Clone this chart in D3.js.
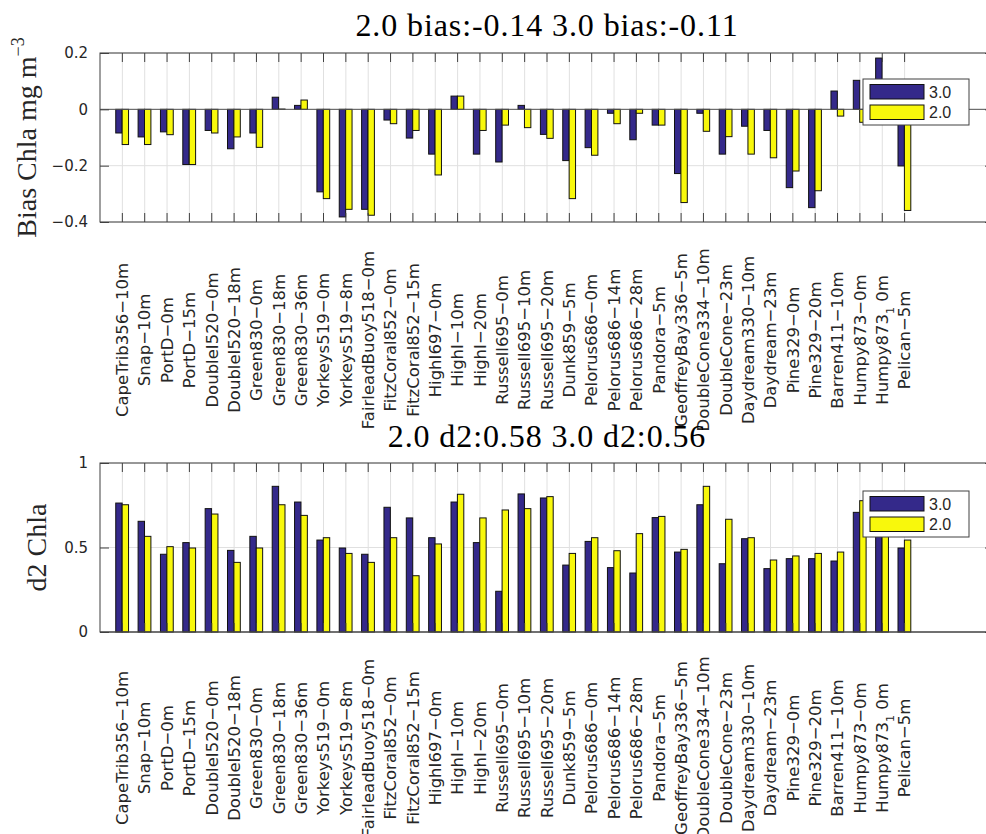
<!DOCTYPE html>
<html>
<head>
<meta charset="utf-8">
<script src="https://cdn.jsdelivr.net/npm/d3@7"></script>
<style>
  body { margin: 0; background: #fff; }
  svg { display: block; }
</style>
</head>
<body>
<svg id="chart"></svg>
<script>
// station names (x axis)
const categories = [
    "CapeTrib356-10m", "Snap-10m", "PortD-0m", "PortD-15m", "DoubleI520-0m", "DoubleI520-18m",
    "Green830-0m", "Green830-18m", "Green830-36m", "Yorkeys519-0m", "Yorkeys519-8m", "FairleadBuoy518-0m",
    "FitzCoral852-0m", "FitzCoral852-15m", "HighI697-0m", "HighI-10m", "HighI-20m", "Russell695-0m",
    "Russell695-10m", "Russell695-20m", "Dunk859-5m", "Pelorus686-0m", "Pelorus686-14m", "Pelorus686-28m",
    "Pandora-5m", "GeoffreyBay336-5m", "DoubleCone334-10m", "DoubleCone-23m", "Daydream330-10m", "Daydream-23m",
    "Pine329-0m", "Pine329-20m", "Barren411-10m", "Humpy873-0m", "Humpy873_1_0m", "Pelican-5m"
]

const series = ["3.0", "2.0"]

// bias Chla
const bias30 = [-0.084, -0.098, -0.080, -0.196, -0.075, -0.140, -0.084, 0.043, 0.014, -0.293, -0.382, -0.355,
    -0.038, -0.102, -0.159, 0.047, -0.159, -0.187, 0.014, -0.089, -0.182, -0.136, -0.014, -0.108,
    -0.056, -0.228, -0.014, -0.159, -0.060, -0.075, -0.278, -0.349, 0.065, 0.103, 0.182, -0.201]
const bias20 = [-0.125, -0.125, -0.090, -0.196, -0.084, -0.098, -0.135, 0.001, 0.033, -0.317, -0.355, -0.376,
    -0.051, -0.075, -0.233, 0.047, -0.075, -0.056, -0.065, -0.103, -0.317, -0.163, -0.051, -0.014,
    -0.056, -0.331, -0.078, -0.097, -0.159, -0.172, -0.219, -0.289, -0.024, -0.046, -0.040, -0.359]

// d2 Chla
const d2_30 = [0.763, 0.655, 0.460, 0.529, 0.730, 0.483, 0.566, 0.862, 0.769, 0.544, 0.497, 0.460,
    0.738, 0.675, 0.558, 0.769, 0.529, 0.241, 0.817, 0.793, 0.396, 0.536, 0.381, 0.349,
    0.677, 0.473, 0.753, 0.404, 0.552, 0.375, 0.434, 0.434, 0.420, 0.708, 0.720, 0.497]
const d2_20 = [0.753, 0.566, 0.505, 0.497, 0.698, 0.412, 0.497, 0.753, 0.690, 0.558, 0.465, 0.412,
    0.558, 0.333, 0.521, 0.815, 0.675, 0.722, 0.730, 0.801, 0.465, 0.558, 0.481, 0.582,
    0.684, 0.489, 0.862, 0.667, 0.558, 0.426, 0.450, 0.465, 0.473, 0.777, 0.650, 0.544]

const biasTicks = [-0.4, -0.2, 0, 0.2]
const d2Ticks = [0, 0.5, 1]

const titleBias = "2.0 bias:-0.14 3.0 bias:-0.11"
const titleD2 = "2.0 d2:0.58 3.0 d2:0.56"

const width = 986
const height = 834

const colors = d3.scaleOrdinal().domain(series).range(["#34298a", "#f8f80c"])
const axisColor = "#404040"
const textColor = "#262626"

const svg = d3.select("#chart")
    .attr("width", width)
    .attr("height", height)

// x goes 0..40 like matlab, stations at 1..36
const x = d3.scaleLinear().domain([0, 40]).range([100, 994])
const inner = d3.scaleBand().domain(series).range([-6.6, 6.2])

function drawPanel(cfg) {
    const y = d3.scaleLinear().domain(cfg.domain).range([cfg.bottom, cfg.top])
    const g = svg.append("g")

    // grid
    g.append("g").selectAll("line.vgrid")
        .data(categories)
        .enter().append("line")
        .attr("x1", (d, i) => x(i + 1)).attr("x2", (d, i) => x(i + 1))
        .attr("y1", cfg.top).attr("y2", cfg.bottom)
        .attr("stroke", "#e0e0e0")

    g.append("g").selectAll("line.hgrid")
        .data(cfg.ticks)
        .enter().append("line")
        .attr("x1", x(0)).attr("x2", x(40))
        .attr("y1", d => y(d)).attr("y2", d => y(d))
        .attr("stroke", "#e0e0e0")

    // bars
    const rows = categories.map((c, i) => ({
        name: c,
        i: i,
        values: [{ s: series[0], v: cfg.vals[0][i] }, { s: series[1], v: cfg.vals[1][i] }]
    }))

    const grp = g.append("g").selectAll("g")
        .data(rows)
        .enter().append("g")
        .attr("transform", d => `translate(${x(d.i + 1)},0)`)

    grp.selectAll("rect")
        .data(d => d.values)
        .enter().append("rect")
        .attr("x", d => inner(d.s))
        .attr("width", inner.bandwidth())
        .attr("y", d => y(Math.max(0, d.v)))
        .attr("height", d => Math.abs(y(d.v) - y(0)))
        .attr("fill", d => colors(d.s))
        .attr("stroke", "#111")
        .attr("stroke-width", 1)

    // baseline at 0
    g.append("line")
        .attr("x1", x(0)).attr("x2", x(40))
        .attr("y1", y(0)).attr("y2", y(0))
        .attr("stroke", "#555")

    // box + ticks
    g.append("rect")
        .attr("x", x(0)).attr("y", cfg.top)
        .attr("width", x(40) - x(0)).attr("height", cfg.bottom - cfg.top)
        .attr("fill", "none").attr("stroke", axisColor)

    const xt = d3.range(1, categories.length + 1)
    g.append("g").selectAll("line")
        .data(xt)
        .enter().append("line")
        .attr("x1", d => x(d)).attr("x2", d => x(d))
        .attr("y1", cfg.bottom).attr("y2", cfg.bottom - 9)
        .attr("stroke", axisColor)
    g.append("g").selectAll("line")
        .data(xt)
        .enter().append("line")
        .attr("x1", d => x(d)).attr("x2", d => x(d))
        .attr("y1", cfg.top).attr("y2", cfg.top + 9)
        .attr("stroke", axisColor)

    const yAxis = g.append("g")
        .attr("transform", `translate(${x(0)},0)`)
        .call(d3.axisLeft(y).tickValues(cfg.ticks).tickSize(-9).tickPadding(12)
            .tickFormat(d3.format("~g")))
    yAxis.select(".domain").remove()
    yAxis.selectAll("line").attr("stroke", axisColor)
    yAxis.selectAll("text")
        .attr("fill", textColor)
        .style("font-family", "DejaVu Sans")
        .style("font-size", "15px")

    const yAxisR = g.append("g")
        .attr("transform", `translate(${x(40)},0)`)
        .call(d3.axisRight(y).tickValues(cfg.ticks).tickSize(-9).tickFormat(""))
    yAxisR.select(".domain").remove()
    yAxisR.selectAll("line").attr("stroke", axisColor)

    // station labels, rotated
    const lab = g.append("g").selectAll("text")
        .data(categories)
        .enter().append("text")
        .attr("transform", (d, i) => `translate(${x(i + 1)},${cfg.labelY}) rotate(-90)`)
        .attr("dy", "0.35em")
        .attr("text-anchor", "middle")
        .attr("fill", textColor)
        .style("font-family", "DejaVu Sans")
        .style("font-size", "16.5px")

    lab.each(function (d) {
        const t = d3.select(this)
        const parts = d.split("_")
        t.append("tspan").text(parts[0].replace(/-/g, "\u2212"))
        if (parts.length > 1) {
            t.append("tspan").attr("dy", 6).style("font-size", "11px").text(parts[1])
            t.append("tspan").attr("dy", -6).text(" " + parts.slice(2).join("").replace(/-/g, "\u2212"))
        }
    })

    // title
    svg.append("text")
        .attr("x", (x(0) + x(40)) / 2)
        .attr("y", cfg.titleY)
        .attr("text-anchor", "middle")
        .attr("fill", "#000")
        .style("font-family", "Liberation Serif")
        .style("font-size", "32px")
        .style("letter-spacing", "0.9px")
        .text(cfg.title)

    // y label
    const yl = svg.append("text")
        .attr("transform", `translate(${cfg.ylabelX},${(cfg.top + cfg.bottom) / 2}) rotate(-90)`)
        .attr("text-anchor", "middle")
        .attr("fill", textColor)
        .style("font-family", "Liberation Serif")
        .style("font-size", "28px")
    yl.append("tspan").text(cfg.ylabel)
    if (cfg.ysup) {
        yl.append("tspan").attr("dy", -12).style("font-size", "18px").text(cfg.ysup)
    }

    // legend
    const lg = svg.append("g").attr("transform", `translate(863,${cfg.legendY})`)
    lg.append("rect")
        .attr("width", 106).attr("height", 46)
        .attr("fill", "#fff").attr("stroke", axisColor)
    lg.selectAll("rect.sw")
        .data(series)
        .enter().append("rect")
        .attr("class", "sw")
        .attr("x", 7).attr("y", (d, i) => 5.5 + i * 20.5)
        .attr("width", 54).attr("height", 14.5)
        .attr("fill", d => colors(d))
        .attr("stroke", "#111")
    lg.selectAll("text")
        .data(series)
        .enter().append("text")
        .attr("x", 66).attr("y", (d, i) => 13 + i * 20.5)
        .attr("dy", "0.35em")
        .attr("fill", textColor)
        .style("font-family", "Liberation Sans")
        .style("font-size", "16px")
        .text(d => d)
}

drawPanel({
    top: 53, bottom: 222,
    domain: [-0.4, 0.2], ticks: biasTicks,
    vals: [bias30, bias20],
    labelY: 340,
    title: titleBias, titleY: 36,
    ylabel: "Bias Chla mg m", ysup: "\u22123", ylabelX: 36,
    legendY: 79
})

drawPanel({
    top: 463, bottom: 632,
    domain: [0, 1], ticks: d2Ticks,
    vals: [d2_30, d2_20],
    labelY: 748,
    title: titleD2, titleY: 447,
    ylabel: "d2 Chla", ylabelX: 46,
    legendY: 491
})
</script>
</body>
</html>
